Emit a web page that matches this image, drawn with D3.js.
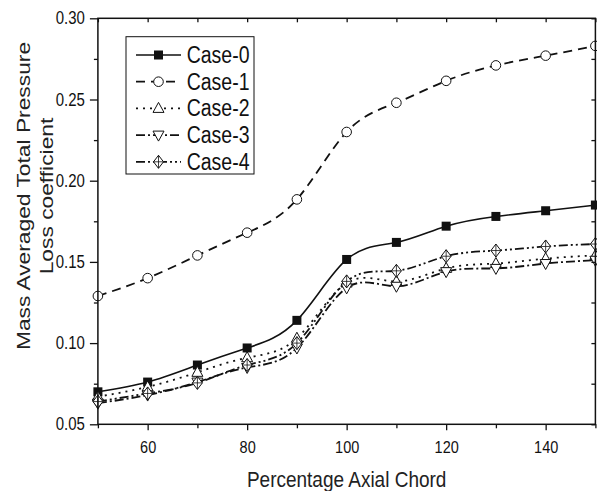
<!DOCTYPE html>
<html>
<head>
<meta charset="utf-8">
<script src="https://cdn.jsdelivr.net/npm/d3@7/dist/d3.min.js"></script>
<style>
  body { margin: 0; background: #fff; }
  svg { display: block; font-family: "Liberation Sans", Arial, sans-serif; }
</style>
</head>
<body>
<div id="chart"></div>
<script>
// data
const xValues = [50, 60, 70, 80, 90, 100, 110, 120, 130, 140, 150];
const case0 = [0.070, 0.076, 0.0865, 0.097, 0.114, 0.1515, 0.162, 0.172, 0.178, 0.1815, 0.185];
const case1 = [0.129, 0.140, 0.154, 0.168, 0.1885, 0.230, 0.248, 0.2615, 0.271, 0.277, 0.283];
const case2 = [0.067, 0.073, 0.082, 0.091, 0.103, 0.137, 0.138, 0.146, 0.149, 0.152, 0.154];
const case3 = [0.063, 0.068, 0.076, 0.085, 0.097, 0.134, 0.135, 0.144, 0.146, 0.149, 0.151];
const case4 = [0.064, 0.069, 0.0755, 0.0865, 0.100, 0.138, 0.1445, 0.1535, 0.157, 0.1595, 0.161];
const seriesNames = ['Case-0', 'Case-1', 'Case-2', 'Case-3', 'Case-4'];
const xTicks = [60, 80, 100, 120, 140];
const yTicks = [0.05, 0.10, 0.15, 0.20, 0.25, 0.30];

const W = 597, H = 491;
const margin = { top: 18.3, right: 1.6, bottom: 66.7, left: 97.9 };
const STRETCH = 1.2; // text in the source looks stretched vertically

const svg = d3.select('#chart').append('svg')
    .attr('width', W)
    .attr('height', H);

const x = d3.scaleLinear().domain([50, 150]).range([margin.left, W - margin.right]);
const y = d3.scaleLinear().domain([0.05, 0.30]).range([H - margin.bottom, margin.top]);

// line styles
const styles = [
    { dash: null, width: 1.6, marker: 'square' },
    { dash: '9,6', width: 1.8, marker: 'circle' },
    { dash: '2,5', width: 1.8, marker: 'triUp' },
    { dash: '9,3,2,3', width: 1.8, marker: 'triDown' },
    { dash: '9,3,2,3,2,3', width: 1.8, marker: 'diamond' }
];
const allSeries = [case0, case1, case2, case3, case4];

function drawMarker(g, type) {
    if (type === 'square') {
        g.append('rect').attr('x', -4.5).attr('y', -4.5).attr('width', 9).attr('height', 9)
            .attr('fill', '#111');
    } else if (type === 'circle') {
        g.append('circle').attr('r', 4.8).attr('fill', '#fff').attr('stroke', '#111').attr('stroke-width', 1);
    } else if (type === 'triUp') {
        g.append('path').attr('d', 'M0,-6L5.5,4L-5.5,4Z').attr('fill', '#fff').attr('stroke', '#111').attr('stroke-width', 1);
    } else if (type === 'triDown') {
        g.append('path').attr('d', 'M0,6L5.5,-4L-5.5,-4Z').attr('fill', '#fff').attr('stroke', '#111').attr('stroke-width', 1);
    } else {
        g.append('path').attr('d', 'M0,-6.5L5,0L0,6.5L-5,0Z').attr('fill', '#fff').attr('stroke', '#111').attr('stroke-width', 1);
        g.append('path').attr('d', 'M0,-6.5V6.5M-5,0H5').attr('fill', 'none').attr('stroke', '#111').attr('stroke-width', 0.8);
    }
}

// series lines
const line = d3.line()
    .x((d, i) => x(xValues[i]))
    .y(d => y(d))
    .curve(d3.curveNatural);

const plot = svg.append('g');
allSeries.forEach((vals, s) => {
    plot.append('path')
        .datum(vals)
        .attr('d', line)
        .attr('fill', 'none')
        .attr('stroke', '#111')
        .attr('stroke-width', styles[s].width)
        .attr('stroke-dasharray', styles[s].dash);
});
// markers on top
allSeries.forEach((vals, s) => {
    vals.forEach((v, i) => {
        const g = plot.append('g').attr('transform', `translate(${x(xValues[i])},${y(v)})`);
        drawMarker(g, styles[s].marker);
    });
});

// axes
const axisColor = '#111';
const xMinor = d3.range(50, 151, 10);
const yMinor = d3.range(0.05, 0.3001, 0.025);

const bottomAxis = svg.append('g').attr('transform', `translate(0,${y(0.05)})`);
bottomAxis.call(d3.axisBottom(x).tickValues(xMinor).tickSize(4).tickFormat(''));
bottomAxis.selectAll('.tick').filter(d => xTicks.includes(d)).select('line').attr('y2', 6);
bottomAxis.selectAll('.tick').filter(d => xTicks.includes(d)).append('text')
    .attr('fill', axisColor)
    .attr('text-anchor', 'middle')
    .attr('font-size', 14.5)
    .attr('transform', `translate(0,28.4) scale(1,${STRETCH})`)
    .text(d => d);

const leftAxis = svg.append('g').attr('transform', `translate(${x(50)},0)`);
leftAxis.call(d3.axisLeft(y).tickValues(yMinor).tickSize(4).tickFormat(''));
leftAxis.selectAll('.tick').filter((d, i) => i % 2 === 0).select('line').attr('x2', -8);
leftAxis.selectAll('.tick').filter((d, i) => i % 2 === 0).append('text')
    .attr('fill', axisColor)
    .attr('text-anchor', 'end')
    .attr('font-size', 15)
    .attr('transform', `translate(-13,5.5) scale(1,${STRETCH})`)
    .text((d, i) => d3.format('.2f')(yTicks[i]));

const topAxis = svg.append('g').attr('transform', `translate(0,${y(0.30)})`);
topAxis.call(d3.axisBottom(x).tickValues(xMinor).tickSize(4).tickFormat(''));

const rightAxis = svg.append('g').attr('transform', `translate(${x(150)},0)`);
rightAxis.call(d3.axisLeft(y).tickValues(yMinor).tickSize(4).tickFormat(''));

svg.selectAll('.domain').remove();
svg.selectAll('.tick line').attr('stroke', axisColor).attr('stroke-width', 1.3);

svg.append('rect')
    .attr('x', x(50)).attr('y', y(0.30))
    .attr('width', x(150) - x(50)).attr('height', y(0.05) - y(0.30))
    .attr('fill', 'none').attr('stroke', axisColor).attr('stroke-width', 1.5);

// axis titles
svg.append('text')
    .attr('transform', `translate(${(x(50) + x(150)) / 2},486.7) scale(1,${STRETCH})`)
    .attr('text-anchor', 'middle')
    .attr('font-size', 19)
    .attr('fill', '#222')
    .text('Percentage Axial Chord');

const yTitle = svg.append('g')
    .attr('transform', `translate(30,196) scale(1,${STRETCH}) rotate(-90)`);
yTitle.append('text')
    .attr('text-anchor', 'middle')
    .attr('font-size', 19)
    .attr('fill', '#222')
    .text('Mass Averaged Total Pressure');
yTitle.append('text')
    .attr('y', 23.5)
    .attr('text-anchor', 'middle')
    .attr('font-size', 19)
    .attr('fill', '#222')
    .text('Loss coefficient');

// legend
const legend = svg.append('g');
legend.append('rect')
    .attr('x', 126).attr('y', 36.7).attr('width', 128).attr('height', 137.3)
    .attr('fill', '#fff').attr('stroke', '#111').attr('stroke-width', 1);

seriesNames.forEach((name, i) => {
    const cy = 55 + i * 26.7;
    legend.append('line')
        .attr('x1', 136).attr('x2', 181).attr('y1', cy).attr('y2', cy)
        .attr('stroke', '#111')
        .attr('stroke-width', styles[i].width)
        .attr('stroke-dasharray', styles[i].dash);
    const g = legend.append('g').attr('transform', `translate(158.5,${cy})`);
    drawMarker(g, styles[i].marker);
    legend.append('text')
        .attr('transform', `translate(186.7,${cy + 8}) scale(1,1.18)`)
        .attr('font-size', 19.5)
        .attr('fill', '#111')
        .text(name);
});
</script>
</body>
</html>
